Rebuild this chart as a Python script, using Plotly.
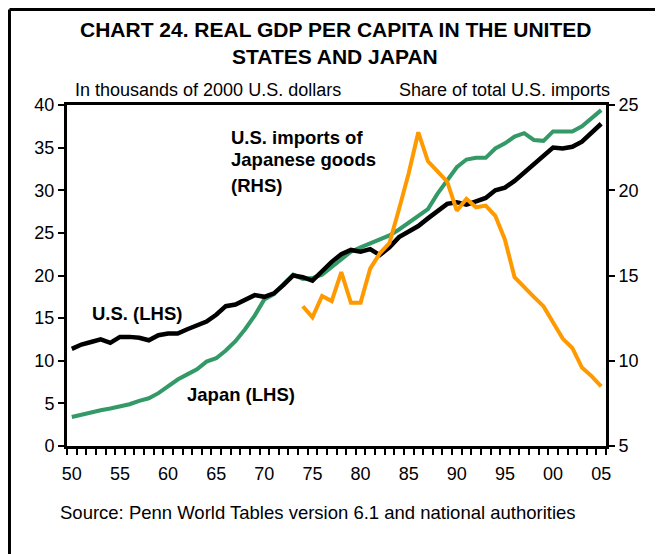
import plotly.graph_objects as go

FONT = "Arial, Liberation Sans, sans-serif"

years = list(range(1950, 2006))

us_gdp = [11.4, 11.9, 12.2, 12.5, 12.1, 12.8, 12.8, 12.7, 12.4, 13.0,
          13.2, 13.2, 13.7, 14.1, 14.6, 15.4, 16.4, 16.6, 17.2, 17.7,
          17.5, 17.9, 18.9, 20.0, 19.8, 19.4, 20.5, 21.6, 22.5, 23.0,
          22.8, 23.1, 22.4, 23.3, 24.5, 25.1, 25.8, 26.7, 27.6, 28.4,
          28.6, 28.3, 28.7, 29.1, 30.0, 30.3, 31.1, 32.1, 33.1, 34.1,
          35.0, 34.9, 35.1, 35.7, 36.7, 37.8]

japan_gdp = [3.4, 3.7, 4.0, 4.2, 4.4, 4.6, 4.9, 5.3, 5.6, 6.2,
             7.0, 7.8, 8.4, 9.0, 9.9, 10.3, 11.2, 12.3, 13.7, 15.3,
             17.2, 17.8, 19.0, 20.1, 19.6, 19.7, 20.1, 21.0, 21.9, 22.8,
             23.3, 23.8, 24.3, 24.7, 25.4, 26.2, 26.9, 27.8, 29.6, 31.1,
             32.7, 33.6, 33.8, 33.8, 34.9, 35.5, 36.3, 36.7, 35.9, 35.8,
             36.9, 36.9, 36.9, 37.5, 38.4, 39.4]

import_years = list(range(1974, 2006))
jp_import_share = [13.2, 12.55, 13.8, 13.5, 15.2, 13.4, 13.4, 15.4, 16.3, 16.9,
                   18.9, 21.0, 23.4, 21.7, 21.1, 20.5, 18.8, 19.5, 19.0, 19.1,
                   18.5, 17.1, 14.9, 14.3, 13.75, 13.2, 12.3, 11.3, 10.75, 9.6,
                   9.1, 8.5]

label_years = [1950, 1955, 1960, 1965, 1970, 1975, 1980, 1985, 1990, 1995, 2000, 2005]
label_text = ["50", "55", "60", "65", "70", "75", "80", "85", "90", "95", "00", "05"]

fig = go.Figure()

fig.add_trace(go.Scatter(x=years, y=japan_gdp, mode="lines",
                         line=dict(color="#339966", width=4), name="Japan (LHS)"))
fig.add_trace(go.Scatter(x=years, y=us_gdp, mode="lines",
                         line=dict(color="#000000", width=4.5), name="U.S. (LHS)"))
fig.add_trace(go.Scatter(x=import_years, y=jp_import_share, mode="lines", yaxis="y2",
                         line=dict(color="#FF9900", width=4), name="U.S. imports of Japanese goods (RHS)"))

# the page body has an 8px margin, so the figure is sized/margined to compensate
fig.update_layout(
    width=655, height=546,
    margin=dict(l=59, r=57, t=97, b=108),
    paper_bgcolor="white", plot_bgcolor="white",
    showlegend=False,
    font=dict(family=FONT, size=18, color="black"),
    xaxis=dict(
        range=[1949.5, 2005.5],
        tickmode="array", tickvals=label_years, ticktext=label_text,
        ticks="outside", ticklen=9, tickcolor="rgba(0,0,0,0)",
        minor=dict(tickmode="linear", tick0=1949.5, dtick=1, ticks="outside",
                   ticklen=6, tickwidth=2, tickcolor="black"),
        showline=True, linecolor="black", linewidth=3, mirror=True,
        showgrid=False, zeroline=False,
        tickfont=dict(size=18),
    ),
    yaxis=dict(
        range=[0, 40], dtick=5, ticks="outside", ticklen=6, tickwidth=2,
        tickcolor="black", showline=True, linecolor="black", linewidth=3,
        showgrid=False, zeroline=False, tickfont=dict(size=18),
    ),
    yaxis2=dict(
        range=[5, 25], dtick=5, overlaying="y", side="right",
        ticks="outside", ticklen=6, tickwidth=2, tickcolor="black",
        showline=True, linecolor="black", linewidth=3,
        showgrid=False, zeroline=False, tickfont=dict(size=18),
    ),
)

# title and axis captions
fig.add_annotation(text="<b>CHART 24. REAL GDP PER CAPITA IN THE UNITED</b>",
                   xref="paper", yref="paper", x=0.498, y=1.22, showarrow=False,
                   font=dict(size=21), xanchor="center", yanchor="middle")
fig.add_annotation(text="<b>STATES AND JAPAN</b>",
                   xref="paper", yref="paper", x=0.498, y=1.141, showarrow=False,
                   font=dict(size=21), xanchor="center", yanchor="middle")
fig.add_annotation(text="In thousands of 2000 U.S. dollars",
                   xref="paper", yref="paper", x=0.011, y=1.044, showarrow=False,
                   xanchor="left", yanchor="middle")
fig.add_annotation(text="Share of total U.S. imports",
                   xref="paper", yref="paper", x=1.011, y=1.044, showarrow=False,
                   xanchor="right", yanchor="middle")
fig.add_annotation(text="Source: Penn World Tables version 6.1 and national authorities",
                   xref="paper", yref="paper", x=-0.017, y=-0.196, showarrow=False,
                   xanchor="left", yanchor="middle", font=dict(size=18.5))

# series labels
for txt, yp in [("U.S. imports of", 0.906), ("Japanese goods", 0.839), ("(RHS)", 0.765)]:
    fig.add_annotation(text="<b>" + txt + "</b>", xref="paper", yref="paper",
                       x=0.3, y=yp, showarrow=False, xanchor="left", yanchor="middle",
                       font=dict(size=18.5))
fig.add_annotation(text="<b>U.S. (LHS)</b>", xref="paper", yref="paper",
                   x=0.043, y=0.39, showarrow=False, xanchor="left", yanchor="middle",
                   font=dict(size=18.5))
fig.add_annotation(text="<b>Japan (LHS)</b>", xref="paper", yref="paper",
                   x=0.219, y=0.152, showarrow=False, xanchor="left", yanchor="middle",
                   font=dict(size=18.5))

# outer frame (left and top edges)
fig.add_shape(type="line", xref="paper", yref="paper", x0=-0.1067, x1=-0.1067,
              y0=1.28, y1=-0.33, line=dict(color="black", width=3))
fig.add_shape(type="line", xref="paper", yref="paper", x0=-0.1067, x1=1.2,
              y0=1.28, y1=1.28, line=dict(color="black", width=3))

fig.write_html("out.html")
